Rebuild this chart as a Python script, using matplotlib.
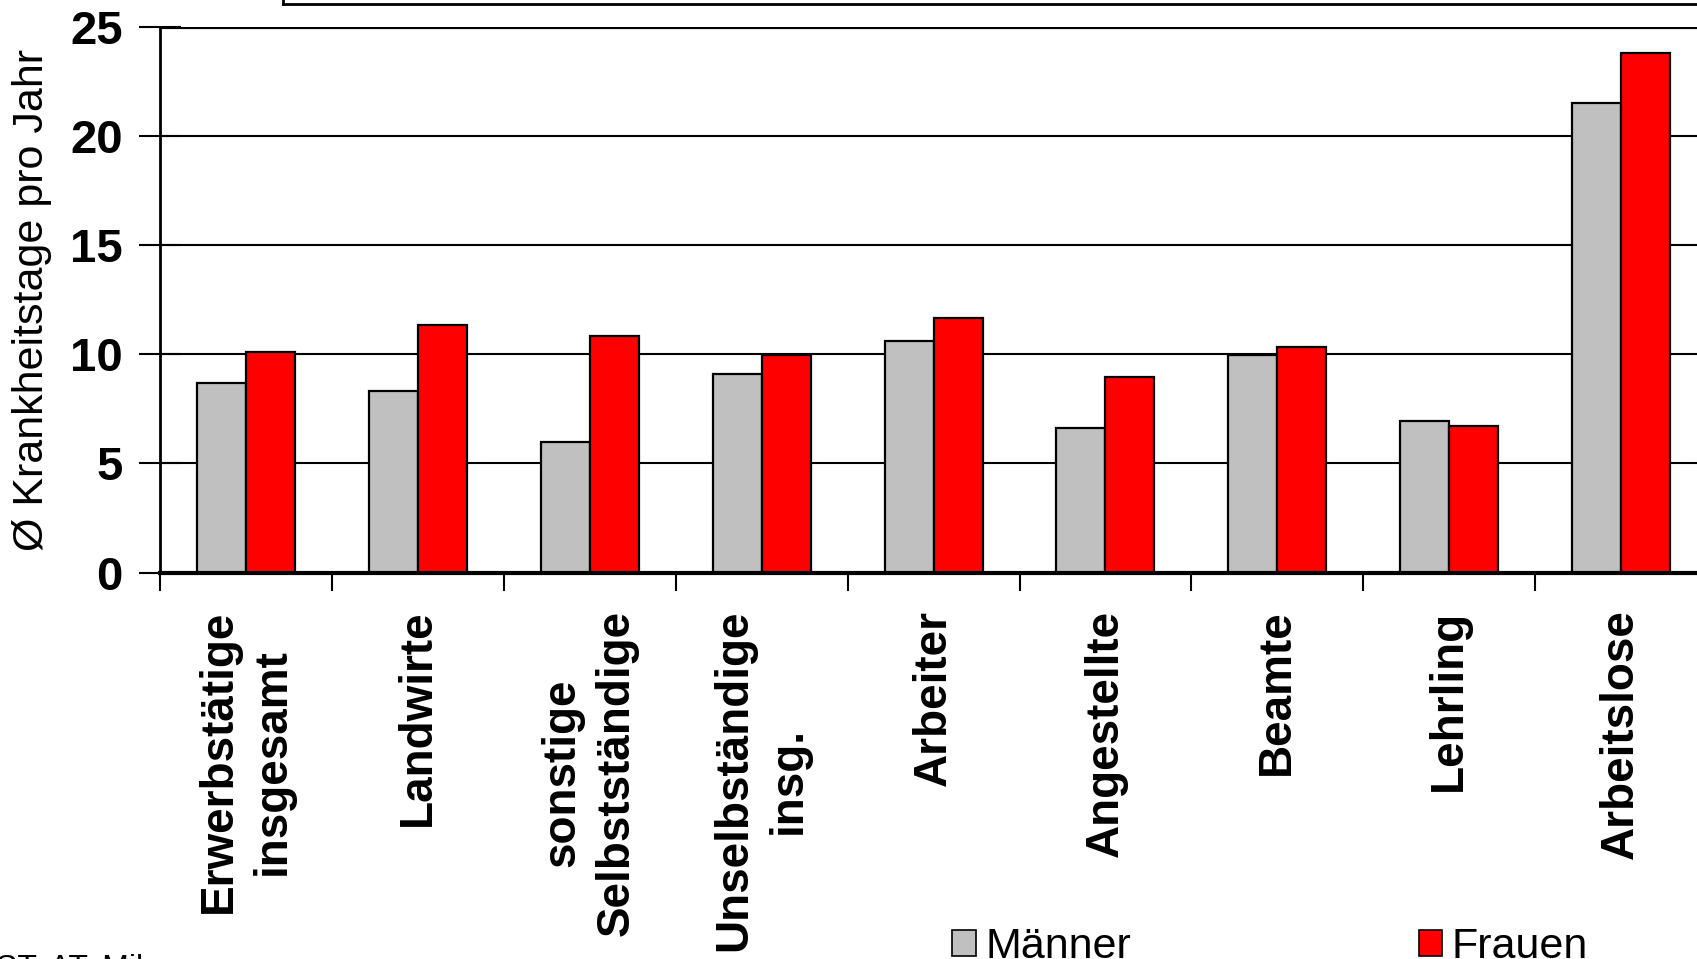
import matplotlib
matplotlib.use("Agg")
import matplotlib.pyplot as plt
import numpy as np
from matplotlib.lines import Line2D
from matplotlib.patches import Patch

categories = ["Erwerbstätige\ninsgesamt", "Landwirte", "sonstige\nSelbstständige",
              "Unselbständige\ninsg.", "Arbeiter", "Angestellte", "Beamte",
              "Lehrling", "Arbeitslose"]
maenner = [8.7, 8.3, 6.0, 9.1, 10.6, 6.6, 9.95, 6.95, 21.5]
frauen = [10.1, 11.35, 10.85, 9.95, 11.65, 8.95, 10.35, 6.7, 23.8]
yticks = [0, 5, 10, 15, 20, 25]
ylabel = "Ø Krankheitstage pro Jahr"
series_names = ["Männer", "Frauen"]
colors = ["#c0c0c0", "#ff0000"]

plt.rcParams["font.family"] = ["Liberation Sans", "DejaVu Sans"]

W, H = 1697, 959
fig = plt.figure(figsize=(W / 100, H / 100), dpi=100)

left_px, right_px = 160, 160 + 9 * 171.9
top_px, bottom_px = 27, 572.5
ax = fig.add_axes([left_px / W, 1 - bottom_px / H, (right_px - left_px) / W,
                   (bottom_px - top_px) / H])

x = np.arange(len(categories))
bw = 0.285
ax.bar(x - bw / 2, maenner, width=bw, color=colors[0], edgecolor="black",
       linewidth=1.6, zorder=3)
ax.bar(x + bw / 2, frauen, width=bw, color=colors[1], edgecolor="black",
       linewidth=1.6, zorder=3)

ax.set_xlim(-0.5, len(categories) - 0.5)
ax.set_ylim(0, 25)
ax.set_yticks(yticks)
ax.set_yticklabels([str(v) for v in yticks], fontsize=34, fontweight="bold")
for v in yticks[1:]:
    ax.axhline(v, color="black", lw=3 if v == 25 else 1.5, zorder=1)

ax.set_xticks(np.arange(-0.5, len(categories), 1.0))
ax.set_xticklabels([])
ax.tick_params(axis="x", direction="out", length=13, width=1.5, color="black")
ax.tick_params(axis="y", direction="inout", length=30, width=1.5, pad=12)

for s in ["top", "right"]:
    ax.spines[s].set_visible(False)
ax.spines["left"].set_linewidth(2)
ax.spines["bottom"].set_linewidth(3)
ax.spines["bottom"].set_zorder(4)

for i, lab in enumerate(categories):
    ax.text(i, -0.068, lab, transform=ax.get_xaxis_transform(), rotation=90,
            ha="center", va="top", multialignment="center", fontsize=33,
            fontweight="bold", linespacing=1.3)

fig.text(32 / W, 1 - 300 / H, ylabel, rotation=90, ha="center", va="center",
         fontsize=31)

handles = [Patch(facecolor=colors[0], edgecolor="black", lw=1.2),
           Patch(facecolor=colors[1], edgecolor="black", lw=1.2)]
fig.legend(handles, series_names, loc="lower left",
           bbox_to_anchor=(952 / W, -8 / H), ncol=2, frameon=False,
           fontsize=31, handlelength=0.55, handleheight=0.55,
           handletextpad=0.22, columnspacing=6.68, borderaxespad=0, borderpad=0)

# cut-off title box at top
fig.add_artist(Line2D([283 / W, 1.0], [1 - 4 / H, 1 - 4 / H], color="black",
                      lw=2, transform=fig.transFigure))
fig.add_artist(Line2D([283 / W, 283 / W], [1 - 4 / H, 1.0], color="black",
                      lw=2, transform=fig.transFigure))

# cut-off source note at bottom left
fig.text(-4 / W, -25 / H, "ST. AT, Mikrozensus", fontsize=23, ha="left",
         va="bottom")

fig.savefig("out.png", dpi=100)
